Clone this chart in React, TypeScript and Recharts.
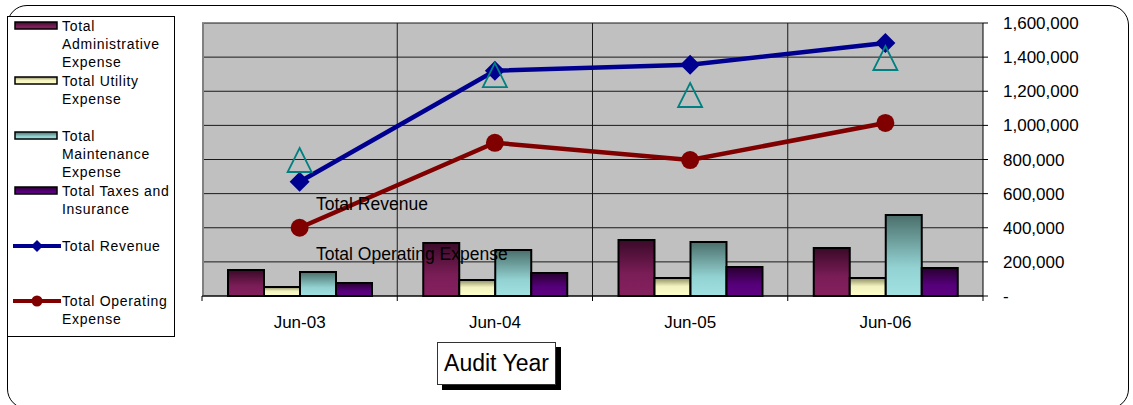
import React from 'react';
import {
  ComposedChart, Bar, Line, XAxis, YAxis, CartesianGrid,
} from 'recharts';

// ---------------------------------------------------------------------------
// Data
// ---------------------------------------------------------------------------

const years = ['Jun-03', 'Jun-04', 'Jun-05', 'Jun-06'];

const adminExpense       = [152000, 311000, 328000, 281000];
const utilityExpense     = [53000, 94000, 105000, 105000];
const maintenanceExpense = [141000, 270000, 317000, 475000];
const taxesInsurance     = [76000, 135000, 170000, 164000];
const totalRevenue       = [670000, 1320000, 1355000, 1483000];
const totalOperating     = [400000, 898000, 797000, 1014000];
const unlabeledSeries    = [797000, 1295000, 1178000, 1395000];

const yTicks = [0, 200000, 400000, 600000, 800000, 1000000, 1200000, 1400000, 1600000];

const legendItems = [
  { kind: 'bar',  fill: 'url(#gAdmin)', lines: ['Total', 'Administrative', 'Expense'], top: 16 },
  { kind: 'bar',  fill: 'url(#gUtil)',  lines: ['Total Utility', 'Expense'], top: 71 },
  { kind: 'bar',  fill: 'url(#gMaint)', lines: ['Total', 'Maintenance', 'Expense'], top: 126 },
  { kind: 'bar',  fill: 'url(#gTax)',   lines: ['Total Taxes and', 'Insurance'], top: 181 },
  { kind: 'diamond', fill: '#000090',   lines: ['Total Revenue'], top: 236 },
  { kind: 'circle',  fill: '#800000',   lines: ['Total Operating', 'Expense'], top: 291 },
];

// ---------------------------------------------------------------------------
// Layout
// ---------------------------------------------------------------------------

const W = 1133;
const H = 405;
const PLOT_LEFT = 202;
const PLOT_RIGHT = 983;
const PLOT_TOP = 23;
const PLOT_BOTTOM = 296;
const Y_AXIS_W = 110;
const X_AXIS_H = 60;
const BAND = (PLOT_RIGHT - PLOT_LEFT) / years.length;
const FONT = '"Liberation Sans", Arial, sans-serif';

const data = years.map((year, i) => ({
  year,
  admin: adminExpense[i],
  utility: utilityExpense[i],
  maint: maintenanceExpense[i],
  taxes: taxesInsurance[i],
  revenue: totalRevenue[i],
  opex: totalOperating[i],
  other: unlabeledSeries[i],
}));

const yFmt = (v: number) => (v === 0 ? '-' : v.toLocaleString('en-US'));

// ---------------------------------------------------------------------------
// Custom renderers
// ---------------------------------------------------------------------------

function XTick(props: any) {
  const { x, y, payload, index } = props;
  const half = BAND / 2;
  return (
    <g>
      <line x1={x - half} x2={x - half} y1={y} y2={y + 5} stroke="#000" />
      {index === years.length - 1 && (
        <line x1={x + half} x2={x + half} y1={y} y2={y + 5} stroke="#000" />
      )}
      <text x={x} y={y + 32} textAnchor="middle" fontSize={17} fontFamily={FONT} fill="#000">
        {payload.value}
      </text>
    </g>
  );
}

function DiamondDot(props: any) {
  const { cx, cy, index } = props;
  const r = 10;
  return (
    <path
      key={`dia-${index}`}
      d={`M${cx},${cy - r}L${cx + r},${cy}L${cx},${cy + r}L${cx - r},${cy}Z`}
      fill="#000090"
    />
  );
}

function CircleDot(props: any) {
  const { cx, cy, index } = props;
  return <circle key={`cir-${index}`} cx={cx} cy={cy} r={9} fill="#800000" />;
}

function TriangleDot(props: any) {
  const { cx, cy, index } = props;
  const h = 12;
  return (
    <path
      key={`tri-${index}`}
      d={`M${cx},${cy - h}L${cx + h},${cy + h}L${cx - h},${cy + h}Z`}
      fill="none"
      stroke="#008080"
      strokeWidth={1.8}
    />
  );
}

function LegendSwatch({ kind, fill }: { kind: string; fill: string }) {
  if (kind === 'bar') {
    return (
      <svg width={48} height={12} style={{ position: 'absolute', left: 4, top: 3 }}>
        <rect x={3} y={2} width={42} height={7} fill={fill} stroke="#000" strokeWidth={1.5} />
      </svg>
    );
  }
  return (
    <svg width={56} height={16} style={{ position: 'absolute', left: 1, top: 1 }}>
      <line x1={4} x2={52} y1={8} y2={8} stroke={fill} strokeWidth={4} />
      {kind === 'diamond'
        ? <path d="M28,2L34,8L28,14L22,8Z" fill={fill} />
        : <circle cx={28} cy={8} r={5.5} fill={fill} />}
    </svg>
  );
}

// ---------------------------------------------------------------------------
// Component
// ---------------------------------------------------------------------------

export default function App() {
  return (
    <div style={{ position: 'absolute', left: 0, top: 0, width: W, height: H, overflow: 'hidden', background: '#fff', fontFamily: FONT }}>
      {/* outer rounded frame */}
      <div style={{
        position: 'absolute', left: 7, top: 5, width: 1122, height: 404,
        border: '1.5px solid #000', borderRadius: 20, boxSizing: 'border-box',
      }} />

      <ComposedChart
        width={W}
        height={H}
        data={data}
        margin={{ top: PLOT_TOP, right: W - PLOT_RIGHT - Y_AXIS_W, left: PLOT_LEFT, bottom: H - PLOT_BOTTOM - X_AXIS_H }}
        barCategoryGap={26}
        barGap={0}
        style={{ position: 'absolute', left: 0, top: 0 }}
      >
        <defs>
          <linearGradient id="gAdmin" x1="0" y1="0" x2="0" y2="1">
            <stop offset="0%" stopColor="#3a0a28" />
            <stop offset="60%" stopColor="#7a1d57" />
            <stop offset="100%" stopColor="#85205f" />
          </linearGradient>
          <linearGradient id="gUtil" x1="0" y1="0" x2="0" y2="1">
            <stop offset="0%" stopColor="#8c8c62" />
            <stop offset="45%" stopColor="#f2f2bf" />
            <stop offset="100%" stopColor="#ffffcc" />
          </linearGradient>
          <linearGradient id="gMaint" x1="0" y1="0" x2="0" y2="1">
            <stop offset="0%" stopColor="#4a6e6a" />
            <stop offset="65%" stopColor="#93d2d2" />
            <stop offset="100%" stopColor="#a2e2e2" />
          </linearGradient>
          <linearGradient id="gTax" x1="0" y1="0" x2="0" y2="1">
            <stop offset="0%" stopColor="#28002e" />
            <stop offset="60%" stopColor="#55007a" />
            <stop offset="100%" stopColor="#600082" />
          </linearGradient>
        </defs>

        <CartesianGrid
          fill="#c0c0c0"
          stroke="#1a1a1a"
          verticalCoordinatesGenerator={({ offset }: any) =>
            [1, 2, 3].map((i) => offset.left + (i * offset.width) / 4)}
        />
        <CartesianGrid
          horizontal={false}
          stroke="#808080"
          strokeWidth={2}
          verticalCoordinatesGenerator={({ offset }: any) => [offset.left + 1]}
        />

        <XAxis
          dataKey="year"
          height={X_AXIS_H}
          axisLine={{ stroke: '#000' }}
          tickLine={false}
          tickSize={0}
          tickMargin={0}
          interval={0}
          tick={<XTick />}
        />
        <YAxis
          orientation="right"
          width={Y_AXIS_W}
          domain={[0, 1600000]}
          ticks={yTicks}
          tickFormatter={yFmt}
          axisLine={{ stroke: '#000' }}
          tickLine={{ stroke: '#000' }}
          tickSize={5}
          tickMargin={15}
          tick={{ fill: '#000', fontSize: 17, fontFamily: FONT }}
        />

        <Bar dataKey="admin" name="Total Administrative Expense" fill="url(#gAdmin)" stroke="#000" strokeWidth={2} isAnimationActive={false} />
        <Bar dataKey="utility" name="Total Utility Expense" fill="url(#gUtil)" stroke="#000" strokeWidth={2} isAnimationActive={false} />
        <Bar dataKey="maint" name="Total Maintenance Expense" fill="url(#gMaint)" stroke="#000" strokeWidth={2} isAnimationActive={false} />
        <Bar dataKey="taxes" name="Total Taxes and Insurance" fill="url(#gTax)" stroke="#000" strokeWidth={2} isAnimationActive={false} />

        <Line dataKey="revenue" name="Total Revenue" stroke="#000090" strokeWidth={4.5} dot={DiamondDot} activeDot={false} isAnimationActive={false} />
        <Line dataKey="opex" name="Total Operating Expense" stroke="#800000" strokeWidth={4.5} dot={CircleDot} activeDot={false} isAnimationActive={false} />
        <Line dataKey="other" stroke="none" dot={TriangleDot} activeDot={false} legendType="none" isAnimationActive={false} />
      </ComposedChart>

      {/* stray series labels inside the plot */}
      <div style={{ position: 'absolute', left: 316, top: 194, fontSize: 17.5, color: '#000', whiteSpace: 'nowrap' }}>Total Revenue</div>
      <div style={{ position: 'absolute', left: 316, top: 244, fontSize: 17.5, color: '#000', whiteSpace: 'nowrap' }}>Total Operating Expense</div>

      {/* legend */}
      <div style={{
        position: 'absolute', left: 7, top: 16, width: 168, height: 321,
        background: '#fff', border: '1px solid #000', boxSizing: 'border-box',
      }}>
        {legendItems.map((it) => (
          <div key={it.lines.join(' ')} style={{ position: 'absolute', left: 0, top: it.top - 16 }}>
            <LegendSwatch kind={it.kind} fill={it.fill} />
            <div style={{ position: 'absolute', left: 54, top: 0, fontSize: 14, lineHeight: '18px', letterSpacing: 0.7, whiteSpace: 'nowrap', color: '#000' }}>
              {it.lines.map((l) => <div key={l}>{l}</div>)}
            </div>
          </div>
        ))}
      </div>

      {/* axis title box */}
      <div style={{
        position: 'absolute', left: 437, top: 342, width: 119, height: 43,
        background: '#fff', border: '1px solid #333', boxSizing: 'border-box',
        boxShadow: '5px 5px 0 #000', fontSize: 23, lineHeight: '41px', textAlign: 'center', color: '#000',
      }}>
        Audit Year
      </div>
    </div>
  );
}
